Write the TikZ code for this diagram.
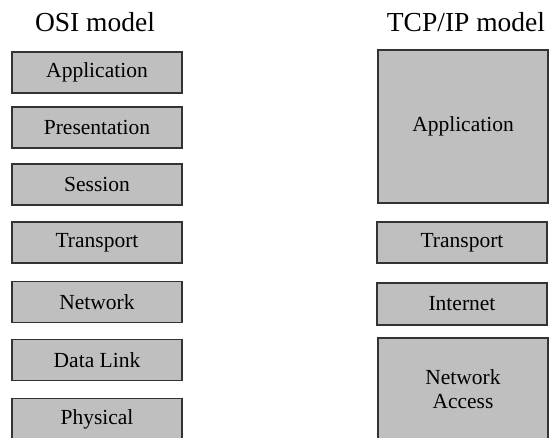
\documentclass[tikz,border=0pt]{standalone}
\usepackage{fontspec}
\setmainfont{Liberation Serif}

\begin{document}
\begin{tikzpicture}[x=1pt,y=-1pt,
  layer/.style={draw=black!80, fill=black!25, line width=1.3pt,
    minimum width=170pt, minimum height=41pt, inner sep=0pt,
    font=\fontsize{21.5}{23.5}\selectfont},
  biglayer/.style={layer, line width=2pt, align=center},
  title/.style={anchor=base, font=\fontsize{27.5}{30}\selectfont}]
\useasboundingbox (0,0) rectangle (552,438);
\clip (0,0) rectangle (552,438);
% OSI
\node [title] (osi) at (95,32) {OSI model};
\node [layer] (osiapp) at (97,72.5) {Application};
\node [layer] (osipres) at (97,127.5) {Presentation};
\node [layer] (osisess) at (97,184.5) {Session};
\node [layer] (ositrans) at (97,242.5) {Transport};
\node [layer] (osinet) at (97,302) {Network};
\node [layer] (osidl) at (97,360) {Data Link};
\node [layer] (osiphys) at (97,419) {Physical};
% TCP/IP
\node [title] (tcp) at (466,32) {TCP/IP model};
\node [biglayer, minimum height=153pt] (tcpapp) at (463,126.5) {Application};
\node [layer] (tcptrans) at (462,242.5) {Transport};
\node [layer, minimum height=42pt] (tcpinet) at (462,304) {Internet};
\node [biglayer, minimum height=102pt] (tcpacc) at (463,389) {Network\\Access};
\end{tikzpicture}
\end{document}
